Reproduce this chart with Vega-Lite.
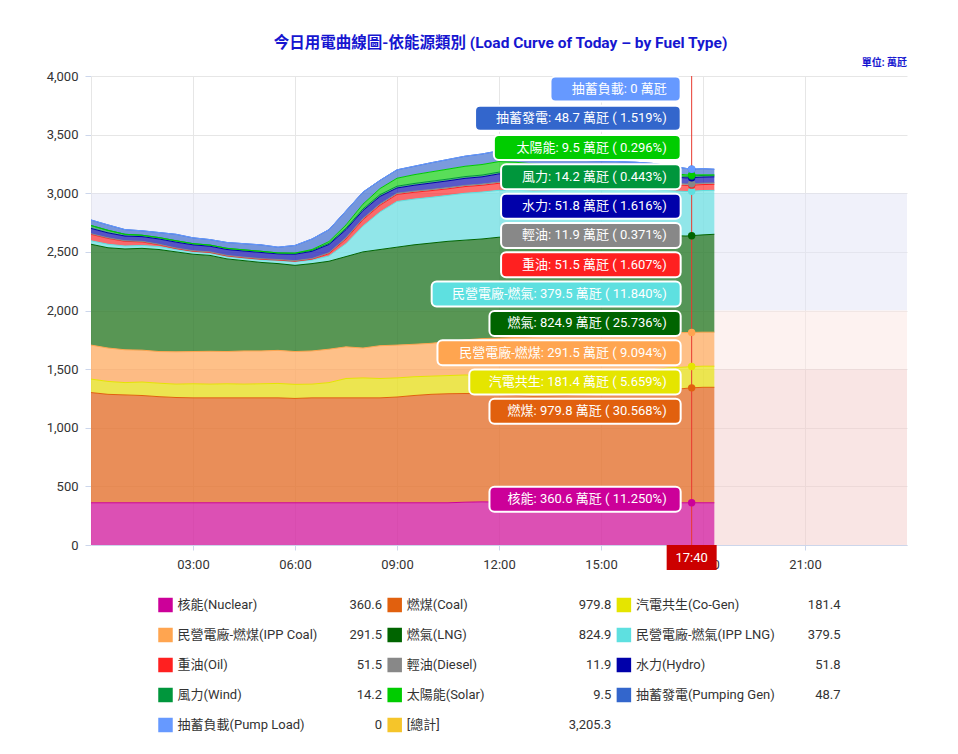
{
  "$schema": "https://vega.github.io/schema/vega-lite/v6.json",
  "background": "white",
  "padding": {"left": 46, "top": 35, "right": 20, "bottom": 10},
  "title": {
    "text": "今日用電曲線圖-依能源類別 (Load Curve of Today – by Fuel Type)",
    "anchor": "middle",
    "fontSize": 15.5,
    "fontWeight": "bold",
    "color": "#1616d0",
    "offset": 7,
    "dx": 24
  },
  "bounds": "flush",
  "center": true,
  "spacing": 45,
  "datasets": {
    "bands": [
      {"lo": 2000, "hi": 3000, "b": "2000-3000"},
      {"lo": 1500, "hi": 2000, "b": "1500-2000"},
      {"lo": 0, "hi": 1500, "b": "0-1500"}
    ],
    "cur": [{"t": "2024-01-01T17:40", "lab": "17:40"}],
    "tips": [
      {"t": "2024-01-01T17:40", "f": "抽蓄負載", "tip": "抽蓄負載: 0 萬瓩"},
      {"t": "2024-01-01T17:40", "f": "抽蓄發電", "tip": "抽蓄發電: 48.7 萬瓩 ( 1.519%)"},
      {"t": "2024-01-01T17:40", "f": "太陽能", "tip": "太陽能: 9.5 萬瓩 ( 0.296%)"},
      {"t": "2024-01-01T17:40", "f": "風力", "tip": "風力: 14.2 萬瓩 ( 0.443%)"},
      {"t": "2024-01-01T17:40", "f": "水力", "tip": "水力: 51.8 萬瓩 ( 1.616%)"},
      {"t": "2024-01-01T17:40", "f": "輕油", "tip": "輕油: 11.9 萬瓩 ( 0.371%)"},
      {"t": "2024-01-01T17:40", "f": "重油", "tip": "重油: 51.5 萬瓩 ( 1.607%)"},
      {"t": "2024-01-01T17:40", "f": "民營電廠-燃氣", "tip": "民營電廠-燃氣: 379.5 萬瓩 ( 11.840%)"},
      {"t": "2024-01-01T17:40", "f": "燃氣", "tip": "燃氣: 824.9 萬瓩 ( 25.736%)"},
      {"t": "2024-01-01T17:40", "f": "民營電廠-燃煤", "tip": "民營電廠-燃煤: 291.5 萬瓩 ( 9.094%)"},
      {"t": "2024-01-01T17:40", "f": "汽電共生", "tip": "汽電共生: 181.4 萬瓩 ( 5.659%)"},
      {"t": "2024-01-01T17:40", "f": "燃煤", "tip": "燃煤: 979.8 萬瓩 ( 30.568%)"},
      {"t": "2024-01-01T17:40", "f": "核能", "tip": "核能: 360.6 萬瓩 ( 11.250%)"}
    ],
    "legend": [
      {"f": "核能", "n": "核能(Nuclear)", "val": 360.6},
      {"f": "燃煤", "n": "燃煤(Coal)", "val": 979.8},
      {"f": "汽電共生", "n": "汽電共生(Co-Gen)", "val": 181.4},
      {"f": "民營電廠-燃煤", "n": "民營電廠-燃煤(IPP Coal)", "val": 291.5},
      {"f": "燃氣", "n": "燃氣(LNG)", "val": 824.9},
      {"f": "民營電廠-燃氣", "n": "民營電廠-燃氣(IPP LNG)", "val": 379.5},
      {"f": "重油", "n": "重油(Oil)", "val": 51.5},
      {"f": "輕油", "n": "輕油(Diesel)", "val": 11.9},
      {"f": "水力", "n": "水力(Hydro)", "val": 51.8},
      {"f": "風力", "n": "風力(Wind)", "val": 14.2},
      {"f": "太陽能", "n": "太陽能(Solar)", "val": 9.5},
      {"f": "抽蓄發電", "n": "抽蓄發電(Pumping Gen)", "val": 48.7},
      {"f": "抽蓄負載", "n": "抽蓄負載(Pump Load)", "val": 0},
      {"f": "總計", "n": "[總計]", "val": 3205.3}
    ],
    "gen": [
      {"t":"2024-01-01T00:00","f":"核能","v":360},{"t":"2024-01-01T00:00","f":"燃煤","v":940},{"t":"2024-01-01T00:00","f":"汽電共生","v":115},{"t":"2024-01-01T00:00","f":"民營電廠-燃煤","v":290},{"t":"2024-01-01T00:00","f":"燃氣","v":860},{"t":"2024-01-01T00:00","f":"民營電廠-燃氣","v":30},{"t":"2024-01-01T00:00","f":"重油","v":55},{"t":"2024-01-01T00:00","f":"輕油","v":5},{"t":"2024-01-01T00:00","f":"水力","v":45},{"t":"2024-01-01T00:00","f":"風力","v":25},{"t":"2024-01-01T00:00","f":"太陽能","v":0},{"t":"2024-01-01T00:00","f":"抽蓄發電","v":47},{"t":"2024-01-01T00:00","f":"抽蓄負載","v":0},
      {"t":"2024-01-01T00:30","f":"核能","v":360},{"t":"2024-01-01T00:30","f":"燃煤","v":925},{"t":"2024-01-01T00:30","f":"汽電共生","v":110},{"t":"2024-01-01T00:30","f":"民營電廠-燃煤","v":285},{"t":"2024-01-01T00:30","f":"燃氣","v":855},{"t":"2024-01-01T00:30","f":"民營電廠-燃氣","v":30},{"t":"2024-01-01T00:30","f":"重油","v":50},{"t":"2024-01-01T00:30","f":"輕油","v":5},{"t":"2024-01-01T00:30","f":"水力","v":42},{"t":"2024-01-01T00:30","f":"風力","v":22},{"t":"2024-01-01T00:30","f":"太陽能","v":0},{"t":"2024-01-01T00:30","f":"抽蓄發電","v":46},{"t":"2024-01-01T00:30","f":"抽蓄負載","v":0},
      {"t":"2024-01-01T01:00","f":"核能","v":360},{"t":"2024-01-01T01:00","f":"燃煤","v":920},{"t":"2024-01-01T01:00","f":"汽電共生","v":105},{"t":"2024-01-01T01:00","f":"民營電廠-燃煤","v":280},{"t":"2024-01-01T01:00","f":"燃氣","v":860},{"t":"2024-01-01T01:00","f":"民營電廠-燃氣","v":25},{"t":"2024-01-01T01:00","f":"重油","v":40},{"t":"2024-01-01T01:00","f":"輕油","v":5},{"t":"2024-01-01T01:00","f":"水力","v":40},{"t":"2024-01-01T01:00","f":"風力","v":15},{"t":"2024-01-01T01:00","f":"太陽能","v":0},{"t":"2024-01-01T01:00","f":"抽蓄發電","v":40},{"t":"2024-01-01T01:00","f":"抽蓄負載","v":0},
      {"t":"2024-01-01T01:30","f":"核能","v":360},{"t":"2024-01-01T01:30","f":"燃煤","v":915},{"t":"2024-01-01T01:30","f":"汽電共生","v":115},{"t":"2024-01-01T01:30","f":"民營電廠-燃煤","v":272},{"t":"2024-01-01T01:30","f":"燃氣","v":868},{"t":"2024-01-01T01:30","f":"民營電廠-燃氣","v":25},{"t":"2024-01-01T01:30","f":"重油","v":30},{"t":"2024-01-01T01:30","f":"輕油","v":5},{"t":"2024-01-01T01:30","f":"水力","v":40},{"t":"2024-01-01T01:30","f":"風力","v":12},{"t":"2024-01-01T01:30","f":"太陽能","v":0},{"t":"2024-01-01T01:30","f":"抽蓄發電","v":38},{"t":"2024-01-01T01:30","f":"抽蓄負載","v":0},
      {"t":"2024-01-01T02:00","f":"核能","v":360},{"t":"2024-01-01T02:00","f":"燃煤","v":905},{"t":"2024-01-01T02:00","f":"汽電共生","v":115},{"t":"2024-01-01T02:00","f":"民營電廠-燃煤","v":270},{"t":"2024-01-01T02:00","f":"燃氣","v":870},{"t":"2024-01-01T02:00","f":"民營電廠-燃氣","v":25},{"t":"2024-01-01T02:00","f":"重油","v":15},{"t":"2024-01-01T02:00","f":"輕油","v":5},{"t":"2024-01-01T02:00","f":"水力","v":45},{"t":"2024-01-01T02:00","f":"風力","v":12},{"t":"2024-01-01T02:00","f":"太陽能","v":0},{"t":"2024-01-01T02:00","f":"抽蓄發電","v":43},{"t":"2024-01-01T02:00","f":"抽蓄負載","v":0},
      {"t":"2024-01-01T02:30","f":"核能","v":360},{"t":"2024-01-01T02:30","f":"燃煤","v":898},{"t":"2024-01-01T02:30","f":"汽電共生","v":114},{"t":"2024-01-01T02:30","f":"民營電廠-燃煤","v":276},{"t":"2024-01-01T02:30","f":"燃氣","v":852},{"t":"2024-01-01T02:30","f":"民營電廠-燃氣","v":20},{"t":"2024-01-01T02:30","f":"重油","v":8},{"t":"2024-01-01T02:30","f":"輕油","v":5},{"t":"2024-01-01T02:30","f":"水力","v":50},{"t":"2024-01-01T02:30","f":"風力","v":12},{"t":"2024-01-01T02:30","f":"太陽能","v":0},{"t":"2024-01-01T02:30","f":"抽蓄發電","v":55},{"t":"2024-01-01T02:30","f":"抽蓄負載","v":0},
      {"t":"2024-01-01T03:00","f":"核能","v":360},{"t":"2024-01-01T03:00","f":"燃煤","v":895},{"t":"2024-01-01T03:00","f":"汽電共生","v":120},{"t":"2024-01-01T03:00","f":"民營電廠-燃煤","v":275},{"t":"2024-01-01T03:00","f":"燃氣","v":830},{"t":"2024-01-01T03:00","f":"民營電廠-燃氣","v":20},{"t":"2024-01-01T03:00","f":"重油","v":5},{"t":"2024-01-01T03:00","f":"輕油","v":5},{"t":"2024-01-01T03:00","f":"水力","v":50},{"t":"2024-01-01T03:00","f":"風力","v":10},{"t":"2024-01-01T03:00","f":"太陽能","v":0},{"t":"2024-01-01T03:00","f":"抽蓄發電","v":50},{"t":"2024-01-01T03:00","f":"抽蓄負載","v":0},
      {"t":"2024-01-01T03:30","f":"核能","v":360},{"t":"2024-01-01T03:30","f":"燃煤","v":895},{"t":"2024-01-01T03:30","f":"汽電共生","v":117},{"t":"2024-01-01T03:30","f":"民營電廠-燃煤","v":280},{"t":"2024-01-01T03:30","f":"燃氣","v":818},{"t":"2024-01-01T03:30","f":"民營電廠-燃氣","v":20},{"t":"2024-01-01T03:30","f":"重油","v":5},{"t":"2024-01-01T03:30","f":"輕油","v":5},{"t":"2024-01-01T03:30","f":"水力","v":48},{"t":"2024-01-01T03:30","f":"風力","v":10},{"t":"2024-01-01T03:30","f":"太陽能","v":0},{"t":"2024-01-01T03:30","f":"抽蓄發電","v":47},{"t":"2024-01-01T03:30","f":"抽蓄負載","v":0},
      {"t":"2024-01-01T04:00","f":"核能","v":360},{"t":"2024-01-01T04:00","f":"燃煤","v":895},{"t":"2024-01-01T04:00","f":"汽電共生","v":120},{"t":"2024-01-01T04:00","f":"民營電廠-燃煤","v":275},{"t":"2024-01-01T04:00","f":"燃氣","v":790},{"t":"2024-01-01T04:00","f":"民營電廠-燃氣","v":20},{"t":"2024-01-01T04:00","f":"重油","v":5},{"t":"2024-01-01T04:00","f":"輕油","v":5},{"t":"2024-01-01T04:00","f":"水力","v":50},{"t":"2024-01-01T04:00","f":"風力","v":10},{"t":"2024-01-01T04:00","f":"太陽能","v":0},{"t":"2024-01-01T04:00","f":"抽蓄發電","v":50},{"t":"2024-01-01T04:00","f":"抽蓄負載","v":0},
      {"t":"2024-01-01T04:30","f":"核能","v":360},{"t":"2024-01-01T04:30","f":"燃煤","v":895},{"t":"2024-01-01T04:30","f":"汽電共生","v":117},{"t":"2024-01-01T04:30","f":"民營電廠-燃煤","v":283},{"t":"2024-01-01T04:30","f":"燃氣","v":770},{"t":"2024-01-01T04:30","f":"民營電廠-燃氣","v":20},{"t":"2024-01-01T04:30","f":"重油","v":5},{"t":"2024-01-01T04:30","f":"輕油","v":5},{"t":"2024-01-01T04:30","f":"水力","v":52},{"t":"2024-01-01T04:30","f":"風力","v":10},{"t":"2024-01-01T04:30","f":"太陽能","v":0},{"t":"2024-01-01T04:30","f":"抽蓄發電","v":53},{"t":"2024-01-01T04:30","f":"抽蓄負載","v":0},
      {"t":"2024-01-01T05:00","f":"核能","v":360},{"t":"2024-01-01T05:00","f":"燃煤","v":895},{"t":"2024-01-01T05:00","f":"汽電共生","v":120},{"t":"2024-01-01T05:00","f":"民營電廠-燃煤","v":280},{"t":"2024-01-01T05:00","f":"燃氣","v":755},{"t":"2024-01-01T05:00","f":"民營電廠-燃氣","v":22},{"t":"2024-01-01T05:00","f":"重油","v":5},{"t":"2024-01-01T05:00","f":"輕油","v":5},{"t":"2024-01-01T05:00","f":"水力","v":53},{"t":"2024-01-01T05:00","f":"風力","v":10},{"t":"2024-01-01T05:00","f":"太陽能","v":0},{"t":"2024-01-01T05:00","f":"抽蓄發電","v":55},{"t":"2024-01-01T05:00","f":"抽蓄負載","v":0},
      {"t":"2024-01-01T05:30","f":"核能","v":360},{"t":"2024-01-01T05:30","f":"燃煤","v":895},{"t":"2024-01-01T05:30","f":"汽電共生","v":123},{"t":"2024-01-01T05:30","f":"民營電廠-燃煤","v":282},{"t":"2024-01-01T05:30","f":"燃氣","v":740},{"t":"2024-01-01T05:30","f":"民營電廠-燃氣","v":25},{"t":"2024-01-01T05:30","f":"重油","v":5},{"t":"2024-01-01T05:30","f":"輕油","v":5},{"t":"2024-01-01T05:30","f":"水力","v":48},{"t":"2024-01-01T05:30","f":"風力","v":8},{"t":"2024-01-01T05:30","f":"太陽能","v":0},{"t":"2024-01-01T05:30","f":"抽蓄發電","v":49},{"t":"2024-01-01T05:30","f":"抽蓄負載","v":0},
      {"t":"2024-01-01T06:00","f":"核能","v":360},{"t":"2024-01-01T06:00","f":"燃煤","v":890},{"t":"2024-01-01T06:00","f":"汽電共生","v":120},{"t":"2024-01-01T06:00","f":"民營電廠-燃煤","v":280},{"t":"2024-01-01T06:00","f":"燃氣","v":735},{"t":"2024-01-01T06:00","f":"民營電廠-燃氣","v":30},{"t":"2024-01-01T06:00","f":"重油","v":5},{"t":"2024-01-01T06:00","f":"輕油","v":5},{"t":"2024-01-01T06:00","f":"水力","v":55},{"t":"2024-01-01T06:00","f":"風力","v":8},{"t":"2024-01-01T06:00","f":"太陽能","v":2},{"t":"2024-01-01T06:00","f":"抽蓄發電","v":65},{"t":"2024-01-01T06:00","f":"抽蓄負載","v":0},
      {"t":"2024-01-01T06:30","f":"核能","v":360},{"t":"2024-01-01T06:30","f":"燃煤","v":895},{"t":"2024-01-01T06:30","f":"汽電共生","v":117},{"t":"2024-01-01T06:30","f":"民營電廠-燃煤","v":283},{"t":"2024-01-01T06:30","f":"燃氣","v":745},{"t":"2024-01-01T06:30","f":"民營電廠-燃氣","v":30},{"t":"2024-01-01T06:30","f":"重油","v":8},{"t":"2024-01-01T06:30","f":"輕油","v":5},{"t":"2024-01-01T06:30","f":"水力","v":62},{"t":"2024-01-01T06:30","f":"風力","v":8},{"t":"2024-01-01T06:30","f":"太陽能","v":7},{"t":"2024-01-01T06:30","f":"抽蓄發電","v":90},{"t":"2024-01-01T06:30","f":"抽蓄負載","v":0},
      {"t":"2024-01-01T07:00","f":"核能","v":360},{"t":"2024-01-01T07:00","f":"燃煤","v":895},{"t":"2024-01-01T07:00","f":"汽電共生","v":130},{"t":"2024-01-01T07:00","f":"民營電廠-燃煤","v":285},{"t":"2024-01-01T07:00","f":"燃氣","v":750},{"t":"2024-01-01T07:00","f":"民營電廠-燃氣","v":45},{"t":"2024-01-01T07:00","f":"重油","v":20},{"t":"2024-01-01T07:00","f":"輕油","v":8},{"t":"2024-01-01T07:00","f":"水力","v":70},{"t":"2024-01-01T07:00","f":"風力","v":10},{"t":"2024-01-01T07:00","f":"太陽能","v":15},{"t":"2024-01-01T07:00","f":"抽蓄發電","v":102},{"t":"2024-01-01T07:00","f":"抽蓄負載","v":0},
      {"t":"2024-01-01T07:30","f":"核能","v":360},{"t":"2024-01-01T07:30","f":"燃煤","v":895},{"t":"2024-01-01T07:30","f":"汽電共生","v":165},{"t":"2024-01-01T07:30","f":"民營電廠-燃煤","v":270},{"t":"2024-01-01T07:30","f":"燃氣","v":770},{"t":"2024-01-01T07:30","f":"民營電廠-燃氣","v":110},{"t":"2024-01-01T07:30","f":"重油","v":40},{"t":"2024-01-01T07:30","f":"輕油","v":10},{"t":"2024-01-01T07:30","f":"水力","v":70},{"t":"2024-01-01T07:30","f":"風力","v":12},{"t":"2024-01-01T07:30","f":"太陽能","v":28},{"t":"2024-01-01T07:30","f":"抽蓄發電","v":120},{"t":"2024-01-01T07:30","f":"抽蓄負載","v":0},
      {"t":"2024-01-01T08:00","f":"核能","v":360},{"t":"2024-01-01T08:00","f":"燃煤","v":895},{"t":"2024-01-01T08:00","f":"汽電共生","v":170},{"t":"2024-01-01T08:00","f":"民營電廠-燃煤","v":255},{"t":"2024-01-01T08:00","f":"燃氣","v":820},{"t":"2024-01-01T08:00","f":"民營電廠-燃氣","v":220},{"t":"2024-01-01T08:00","f":"重油","v":55},{"t":"2024-01-01T08:00","f":"輕油","v":10},{"t":"2024-01-01T08:00","f":"水力","v":68},{"t":"2024-01-01T08:00","f":"風力","v":14},{"t":"2024-01-01T08:00","f":"太陽能","v":40},{"t":"2024-01-01T08:00","f":"抽蓄發電","v":103},{"t":"2024-01-01T08:00","f":"抽蓄負載","v":0},
      {"t":"2024-01-01T08:30","f":"核能","v":360},{"t":"2024-01-01T08:30","f":"燃煤","v":895},{"t":"2024-01-01T08:30","f":"汽電共生","v":165},{"t":"2024-01-01T08:30","f":"民營電廠-燃煤","v":280},{"t":"2024-01-01T08:30","f":"燃氣","v":820},{"t":"2024-01-01T08:30","f":"民營電廠-燃氣","v":320},{"t":"2024-01-01T08:30","f":"重油","v":58},{"t":"2024-01-01T08:30","f":"輕油","v":10},{"t":"2024-01-01T08:30","f":"水力","v":65},{"t":"2024-01-01T08:30","f":"風力","v":15},{"t":"2024-01-01T08:30","f":"太陽能","v":52},{"t":"2024-01-01T08:30","f":"抽蓄發電","v":70},{"t":"2024-01-01T08:30","f":"抽蓄負載","v":0},
      {"t":"2024-01-01T09:00","f":"核能","v":360},{"t":"2024-01-01T09:00","f":"燃煤","v":902},{"t":"2024-01-01T09:00","f":"汽電共生","v":163},{"t":"2024-01-01T09:00","f":"民營電廠-燃煤","v":280},{"t":"2024-01-01T09:00","f":"燃氣","v":835},{"t":"2024-01-01T09:00","f":"民營電廠-燃氣","v":390},{"t":"2024-01-01T09:00","f":"重油","v":60},{"t":"2024-01-01T09:00","f":"輕油","v":10},{"t":"2024-01-01T09:00","f":"水力","v":45},{"t":"2024-01-01T09:00","f":"風力","v":15},{"t":"2024-01-01T09:00","f":"太陽能","v":68},{"t":"2024-01-01T09:00","f":"抽蓄發電","v":72},{"t":"2024-01-01T09:00","f":"抽蓄負載","v":0},
      {"t":"2024-01-01T09:30","f":"核能","v":360},{"t":"2024-01-01T09:30","f":"燃煤","v":915},{"t":"2024-01-01T09:30","f":"汽電共生","v":160},{"t":"2024-01-01T09:30","f":"民營電廠-燃煤","v":277},{"t":"2024-01-01T09:30","f":"燃氣","v":848},{"t":"2024-01-01T09:30","f":"民營電廠-燃氣","v":390},{"t":"2024-01-01T09:30","f":"重油","v":58},{"t":"2024-01-01T09:30","f":"輕油","v":10},{"t":"2024-01-01T09:30","f":"水力","v":50},{"t":"2024-01-01T09:30","f":"風力","v":15},{"t":"2024-01-01T09:30","f":"太陽能","v":75},{"t":"2024-01-01T09:30","f":"抽蓄發電","v":72},{"t":"2024-01-01T09:30","f":"抽蓄負載","v":0},
      {"t":"2024-01-01T10:00","f":"核能","v":360},{"t":"2024-01-01T10:00","f":"燃煤","v":925},{"t":"2024-01-01T10:00","f":"汽電共生","v":155},{"t":"2024-01-01T10:00","f":"民營電廠-燃煤","v":280},{"t":"2024-01-01T10:00","f":"燃氣","v":855},{"t":"2024-01-01T10:00","f":"民營電廠-燃氣","v":390},{"t":"2024-01-01T10:00","f":"重油","v":57},{"t":"2024-01-01T10:00","f":"輕油","v":10},{"t":"2024-01-01T10:00","f":"水力","v":55},{"t":"2024-01-01T10:00","f":"風力","v":15},{"t":"2024-01-01T10:00","f":"太陽能","v":80},{"t":"2024-01-01T10:00","f":"抽蓄發電","v":78},{"t":"2024-01-01T10:00","f":"抽蓄負載","v":0},
      {"t":"2024-01-01T10:30","f":"核能","v":360},{"t":"2024-01-01T10:30","f":"燃煤","v":930},{"t":"2024-01-01T10:30","f":"汽電共生","v":155},{"t":"2024-01-01T10:30","f":"民營電廠-燃煤","v":290},{"t":"2024-01-01T10:30","f":"燃氣","v":855},{"t":"2024-01-01T10:30","f":"民營電廠-燃氣","v":392},{"t":"2024-01-01T10:30","f":"重油","v":56},{"t":"2024-01-01T10:30","f":"輕油","v":10},{"t":"2024-01-01T10:30","f":"水力","v":58},{"t":"2024-01-01T10:30","f":"風力","v":15},{"t":"2024-01-01T10:30","f":"太陽能","v":85},{"t":"2024-01-01T10:30","f":"抽蓄發電","v":82},{"t":"2024-01-01T10:30","f":"抽蓄負載","v":0},
      {"t":"2024-01-01T11:00","f":"核能","v":365},{"t":"2024-01-01T11:00","f":"燃煤","v":927},{"t":"2024-01-01T11:00","f":"汽電共生","v":158},{"t":"2024-01-01T11:00","f":"民營電廠-燃煤","v":300},{"t":"2024-01-01T11:00","f":"燃氣","v":850},{"t":"2024-01-01T11:00","f":"民營電廠-燃氣","v":400},{"t":"2024-01-01T11:00","f":"重油","v":57},{"t":"2024-01-01T11:00","f":"輕油","v":10},{"t":"2024-01-01T11:00","f":"水力","v":60},{"t":"2024-01-01T11:00","f":"風力","v":15},{"t":"2024-01-01T11:00","f":"太陽能","v":88},{"t":"2024-01-01T11:00","f":"抽蓄發電","v":86},{"t":"2024-01-01T11:00","f":"抽蓄負載","v":0},
      {"t":"2024-01-01T11:30","f":"核能","v":368},{"t":"2024-01-01T11:30","f":"燃煤","v":922},{"t":"2024-01-01T11:30","f":"汽電共生","v":155},{"t":"2024-01-01T11:30","f":"民營電廠-燃煤","v":315},{"t":"2024-01-01T11:30","f":"燃氣","v":850},{"t":"2024-01-01T11:30","f":"民營電廠-燃氣","v":400},{"t":"2024-01-01T11:30","f":"重油","v":58},{"t":"2024-01-01T11:30","f":"輕油","v":10},{"t":"2024-01-01T11:30","f":"水力","v":62},{"t":"2024-01-01T11:30","f":"風力","v":15},{"t":"2024-01-01T11:30","f":"太陽能","v":90},{"t":"2024-01-01T11:30","f":"抽蓄發電","v":90},{"t":"2024-01-01T11:30","f":"抽蓄負載","v":0},
      {"t":"2024-01-01T12:00","f":"核能","v":366},{"t":"2024-01-01T12:00","f":"燃煤","v":919},{"t":"2024-01-01T12:00","f":"汽電共生","v":155},{"t":"2024-01-01T12:00","f":"民營電廠-燃煤","v":325},{"t":"2024-01-01T12:00","f":"燃氣","v":860},{"t":"2024-01-01T12:00","f":"民營電廠-燃氣","v":400},{"t":"2024-01-01T12:00","f":"重油","v":60},{"t":"2024-01-01T12:00","f":"輕油","v":10},{"t":"2024-01-01T12:00","f":"水力","v":70},{"t":"2024-01-01T12:00","f":"風力","v":15},{"t":"2024-01-01T12:00","f":"太陽能","v":90},{"t":"2024-01-01T12:00","f":"抽蓄發電","v":92},{"t":"2024-01-01T12:00","f":"抽蓄負載","v":0},
      {"t":"2024-01-01T12:30","f":"核能","v":362},{"t":"2024-01-01T12:30","f":"燃煤","v":913},{"t":"2024-01-01T12:30","f":"汽電共生","v":155},{"t":"2024-01-01T12:30","f":"民營電廠-燃煤","v":340},{"t":"2024-01-01T12:30","f":"燃氣","v":860},{"t":"2024-01-01T12:30","f":"民營電廠-燃氣","v":395},{"t":"2024-01-01T12:30","f":"重油","v":58},{"t":"2024-01-01T12:30","f":"輕油","v":10},{"t":"2024-01-01T12:30","f":"水力","v":68},{"t":"2024-01-01T12:30","f":"風力","v":15},{"t":"2024-01-01T12:30","f":"太陽能","v":88},{"t":"2024-01-01T12:30","f":"抽蓄發電","v":80},{"t":"2024-01-01T12:30","f":"抽蓄負載","v":0},
      {"t":"2024-01-01T13:00","f":"核能","v":360},{"t":"2024-01-01T13:00","f":"燃煤","v":910},{"t":"2024-01-01T13:00","f":"汽電共生","v":170},{"t":"2024-01-01T13:00","f":"民營電廠-燃煤","v":335},{"t":"2024-01-01T13:00","f":"燃氣","v":850},{"t":"2024-01-01T13:00","f":"民營電廠-燃氣","v":395},{"t":"2024-01-01T13:00","f":"重油","v":56},{"t":"2024-01-01T13:00","f":"輕油","v":10},{"t":"2024-01-01T13:00","f":"水力","v":65},{"t":"2024-01-01T13:00","f":"風力","v":15},{"t":"2024-01-01T13:00","f":"太陽能","v":84},{"t":"2024-01-01T13:00","f":"抽蓄發電","v":62},{"t":"2024-01-01T13:00","f":"抽蓄負載","v":0},
      {"t":"2024-01-01T13:30","f":"核能","v":360},{"t":"2024-01-01T13:30","f":"燃煤","v":912},{"t":"2024-01-01T13:30","f":"汽電共生","v":178},{"t":"2024-01-01T13:30","f":"民營電廠-燃煤","v":330},{"t":"2024-01-01T13:30","f":"燃氣","v":850},{"t":"2024-01-01T13:30","f":"民營電廠-燃氣","v":392},{"t":"2024-01-01T13:30","f":"重油","v":55},{"t":"2024-01-01T13:30","f":"輕油","v":10},{"t":"2024-01-01T13:30","f":"水力","v":62},{"t":"2024-01-01T13:30","f":"風力","v":15},{"t":"2024-01-01T13:30","f":"太陽能","v":78},{"t":"2024-01-01T13:30","f":"抽蓄發電","v":48},{"t":"2024-01-01T13:30","f":"抽蓄負載","v":0},
      {"t":"2024-01-01T14:00","f":"核能","v":360},{"t":"2024-01-01T14:00","f":"燃煤","v":915},{"t":"2024-01-01T14:00","f":"汽電共生","v":185},{"t":"2024-01-01T14:00","f":"民營電廠-燃煤","v":325},{"t":"2024-01-01T14:00","f":"燃氣","v":850},{"t":"2024-01-01T14:00","f":"民營電廠-燃氣","v":390},{"t":"2024-01-01T14:00","f":"重油","v":55},{"t":"2024-01-01T14:00","f":"輕油","v":10},{"t":"2024-01-01T14:00","f":"水力","v":60},{"t":"2024-01-01T14:00","f":"風力","v":15},{"t":"2024-01-01T14:00","f":"太陽能","v":70},{"t":"2024-01-01T14:00","f":"抽蓄發電","v":50},{"t":"2024-01-01T14:00","f":"抽蓄負載","v":0},
      {"t":"2024-01-01T14:30","f":"核能","v":360},{"t":"2024-01-01T14:30","f":"燃煤","v":920},{"t":"2024-01-01T14:30","f":"汽電共生","v":190},{"t":"2024-01-01T14:30","f":"民營電廠-燃煤","v":320},{"t":"2024-01-01T14:30","f":"燃氣","v":850},{"t":"2024-01-01T14:30","f":"民營電廠-燃氣","v":388},{"t":"2024-01-01T14:30","f":"重油","v":54},{"t":"2024-01-01T14:30","f":"輕油","v":10},{"t":"2024-01-01T14:30","f":"水力","v":58},{"t":"2024-01-01T14:30","f":"風力","v":15},{"t":"2024-01-01T14:30","f":"太陽能","v":62},{"t":"2024-01-01T14:30","f":"抽蓄發電","v":53},{"t":"2024-01-01T14:30","f":"抽蓄負載","v":0},
      {"t":"2024-01-01T15:00","f":"核能","v":360},{"t":"2024-01-01T15:00","f":"燃煤","v":925},{"t":"2024-01-01T15:00","f":"汽電共生","v":190},{"t":"2024-01-01T15:00","f":"民營電廠-燃煤","v":320},{"t":"2024-01-01T15:00","f":"燃氣","v":840},{"t":"2024-01-01T15:00","f":"民營電廠-燃氣","v":390},{"t":"2024-01-01T15:00","f":"重油","v":54},{"t":"2024-01-01T15:00","f":"輕油","v":11},{"t":"2024-01-01T15:00","f":"水力","v":57},{"t":"2024-01-01T15:00","f":"風力","v":15},{"t":"2024-01-01T15:00","f":"太陽能","v":55},{"t":"2024-01-01T15:00","f":"抽蓄發電","v":58},{"t":"2024-01-01T15:00","f":"抽蓄負載","v":0},
      {"t":"2024-01-01T15:30","f":"核能","v":360},{"t":"2024-01-01T15:30","f":"燃煤","v":932},{"t":"2024-01-01T15:30","f":"汽電共生","v":188},{"t":"2024-01-01T15:30","f":"民營電廠-燃煤","v":320},{"t":"2024-01-01T15:30","f":"燃氣","v":840},{"t":"2024-01-01T15:30","f":"民營電廠-燃氣","v":388},{"t":"2024-01-01T15:30","f":"重油","v":53},{"t":"2024-01-01T15:30","f":"輕油","v":11},{"t":"2024-01-01T15:30","f":"水力","v":56},{"t":"2024-01-01T15:30","f":"風力","v":15},{"t":"2024-01-01T15:30","f":"太陽能","v":46},{"t":"2024-01-01T15:30","f":"抽蓄發電","v":61},{"t":"2024-01-01T15:30","f":"抽蓄負載","v":0},
      {"t":"2024-01-01T16:00","f":"核能","v":360},{"t":"2024-01-01T16:00","f":"燃煤","v":940},{"t":"2024-01-01T16:00","f":"汽電共生","v":185},{"t":"2024-01-01T16:00","f":"民營電廠-燃煤","v":320},{"t":"2024-01-01T16:00","f":"燃氣","v":835},{"t":"2024-01-01T16:00","f":"民營電廠-燃氣","v":386},{"t":"2024-01-01T16:00","f":"重油","v":53},{"t":"2024-01-01T16:00","f":"輕油","v":11},{"t":"2024-01-01T16:00","f":"水力","v":55},{"t":"2024-01-01T16:00","f":"風力","v":15},{"t":"2024-01-01T16:00","f":"太陽能","v":38},{"t":"2024-01-01T16:00","f":"抽蓄發電","v":67},{"t":"2024-01-01T16:00","f":"抽蓄負載","v":0},
      {"t":"2024-01-01T16:30","f":"核能","v":360},{"t":"2024-01-01T16:30","f":"燃煤","v":950},{"t":"2024-01-01T16:30","f":"汽電共生","v":185},{"t":"2024-01-01T16:30","f":"民營電廠-燃煤","v":313},{"t":"2024-01-01T16:30","f":"燃氣","v":837},{"t":"2024-01-01T16:30","f":"民營電廠-燃氣","v":384},{"t":"2024-01-01T16:30","f":"重油","v":52},{"t":"2024-01-01T16:30","f":"輕油","v":12},{"t":"2024-01-01T16:30","f":"水力","v":54},{"t":"2024-01-01T16:30","f":"風力","v":14},{"t":"2024-01-01T16:30","f":"太陽能","v":28},{"t":"2024-01-01T16:30","f":"抽蓄發電","v":66},{"t":"2024-01-01T16:30","f":"抽蓄負載","v":0},
      {"t":"2024-01-01T17:00","f":"核能","v":360},{"t":"2024-01-01T17:00","f":"燃煤","v":962},{"t":"2024-01-01T17:00","f":"汽電共生","v":188},{"t":"2024-01-01T17:00","f":"民營電廠-燃煤","v":300},{"t":"2024-01-01T17:00","f":"燃氣","v":830},{"t":"2024-01-01T17:00","f":"民營電廠-燃氣","v":382},{"t":"2024-01-01T17:00","f":"重油","v":52},{"t":"2024-01-01T17:00","f":"輕油","v":12},{"t":"2024-01-01T17:00","f":"水力","v":53},{"t":"2024-01-01T17:00","f":"風力","v":14},{"t":"2024-01-01T17:00","f":"太陽能","v":18},{"t":"2024-01-01T17:00","f":"抽蓄發電","v":64},{"t":"2024-01-01T17:00","f":"抽蓄負載","v":0},
      {"t":"2024-01-01T17:30","f":"核能","v":360},{"t":"2024-01-01T17:30","f":"燃煤","v":976},{"t":"2024-01-01T17:30","f":"汽電共生","v":182},{"t":"2024-01-01T17:30","f":"民營電廠-燃煤","v":294},{"t":"2024-01-01T17:30","f":"燃氣","v":823},{"t":"2024-01-01T17:30","f":"民營電廠-燃氣","v":380},{"t":"2024-01-01T17:30","f":"重油","v":52},{"t":"2024-01-01T17:30","f":"輕油","v":12},{"t":"2024-01-01T17:30","f":"水力","v":52},{"t":"2024-01-01T17:30","f":"風力","v":14},{"t":"2024-01-01T17:30","f":"太陽能","v":12},{"t":"2024-01-01T17:30","f":"抽蓄發電","v":55},{"t":"2024-01-01T17:30","f":"抽蓄負載","v":0},
      {"t":"2024-01-01T17:40","f":"核能","v":360.6},{"t":"2024-01-01T17:40","f":"燃煤","v":979.8},{"t":"2024-01-01T17:40","f":"汽電共生","v":181.4},{"t":"2024-01-01T17:40","f":"民營電廠-燃煤","v":291.5},{"t":"2024-01-01T17:40","f":"燃氣","v":824.9},{"t":"2024-01-01T17:40","f":"民營電廠-燃氣","v":379.5},{"t":"2024-01-01T17:40","f":"重油","v":51.5},{"t":"2024-01-01T17:40","f":"輕油","v":11.9},{"t":"2024-01-01T17:40","f":"水力","v":51.8},{"t":"2024-01-01T17:40","f":"風力","v":14.2},{"t":"2024-01-01T17:40","f":"太陽能","v":9.5},{"t":"2024-01-01T17:40","f":"抽蓄發電","v":48.7},{"t":"2024-01-01T17:40","f":"抽蓄負載","v":0},
      {"t":"2024-01-01T18:00","f":"核能","v":360},{"t":"2024-01-01T18:00","f":"燃煤","v":985},{"t":"2024-01-01T18:00","f":"汽電共生","v":180},{"t":"2024-01-01T18:00","f":"民營電廠-燃煤","v":290},{"t":"2024-01-01T18:00","f":"燃氣","v":830},{"t":"2024-01-01T18:00","f":"民營電廠-燃氣","v":378},{"t":"2024-01-01T18:00","f":"重油","v":51},{"t":"2024-01-01T18:00","f":"輕油","v":12},{"t":"2024-01-01T18:00","f":"水力","v":52},{"t":"2024-01-01T18:00","f":"風力","v":14},{"t":"2024-01-01T18:00","f":"太陽能","v":5},{"t":"2024-01-01T18:00","f":"抽蓄發電","v":53},{"t":"2024-01-01T18:00","f":"抽蓄負載","v":0},
      {"t":"2024-01-01T18:20","f":"核能","v":360},{"t":"2024-01-01T18:20","f":"燃煤","v":985},{"t":"2024-01-01T18:20","f":"汽電共生","v":180},{"t":"2024-01-01T18:20","f":"民營電廠-燃煤","v":290},{"t":"2024-01-01T18:20","f":"燃氣","v":835},{"t":"2024-01-01T18:20","f":"民營電廠-燃氣","v":375},{"t":"2024-01-01T18:20","f":"重油","v":51},{"t":"2024-01-01T18:20","f":"輕油","v":12},{"t":"2024-01-01T18:20","f":"水力","v":52},{"t":"2024-01-01T18:20","f":"風力","v":14},{"t":"2024-01-01T18:20","f":"太陽能","v":2},{"t":"2024-01-01T18:20","f":"抽蓄發電","v":49},{"t":"2024-01-01T18:20","f":"抽蓄負載","v":0}
    ]
  },
  "vconcat": [
    {
      "width": 816,
      "height": 469,
      "title": {
        "text": "單位: 萬瓩",
        "anchor": "end",
        "fontSize": 10,
        "fontWeight": "bold",
        "color": "#1616d0",
        "offset": 2
      },
      "layer": [
        {
          "layer": [
            {
              "data": {"name": "bands"},
              "mark": {"type": "rect", "opacity": 0.5},
              "encoding": {
                "y": {"field": "lo", "type": "quantitative", "title": null},
                "y2": {"field": "hi"},
                "fill": {
                  "field": "b",
                  "type": "nominal",
                  "scale": {"domain": ["2000-3000", "1500-2000", "0-1500"], "range": ["#e1e3f5", "#fbe5e1", "#f4cbca"]},
                  "legend": null
                }
              }
            },
            {
              "data": {"name": "gen"},
              "transform": [
                {"calculate": "indexof(['核能','燃煤','汽電共生','民營電廠-燃煤','燃氣','民營電廠-燃氣','重油','輕油','水力','風力','太陽能','抽蓄發電','抽蓄負載'], datum.f)", "as": "o"}
              ],
              "mark": {"type": "area", "fillOpacity": 0.65, "line": {"strokeWidth": 1}},
              "encoding": {
                "x": {
                  "field": "t",
                  "type": "temporal",
                  "title": null,
                  "scale": {"domain": [{"year": 2024, "month": 1, "date": 1, "hours": 0}, {"year": 2024, "month": 1, "date": 2, "hours": 0}]},
                  "axis": {
                    "format": "%H:%M",
                    "values": [
                      {"year": 2024, "month": 1, "date": 1, "hours": 3},
                      {"year": 2024, "month": 1, "date": 1, "hours": 6},
                      {"year": 2024, "month": 1, "date": 1, "hours": 9},
                      {"year": 2024, "month": 1, "date": 1, "hours": 12},
                      {"year": 2024, "month": 1, "date": 1, "hours": 15},
                      {"year": 2024, "month": 1, "date": 1, "hours": 18},
                      {"year": 2024, "month": 1, "date": 1, "hours": 21}
                    ],
                    "tickSize": 5,
                    "labelPadding": 8,
                    "labelFontSize": 13,
                    "labelColor": "#333333",
                    "gridColor": "#e6e6e6",
                    "domainColor": "#ccd6eb",
                    "tickColor": "#ccd6eb"
                  }
                },
                "y": {
                  "field": "v",
                  "type": "quantitative",
                  "stack": "zero",
                  "title": null,
                  "scale": {"domain": [0, 4000]},
                  "axis": {
                    "values": [0, 500, 1000, 1500, 2000, 2500, 3000, 3500, 4000],
                    "format": ",d",
                    "tickSize": 6,
                    "labelPadding": 7,
                    "labelFontSize": 13,
                    "labelColor": "#333333",
                    "gridColor": "#e6e6e6",
                    "domainColor": "#e6e6e6",
                    "tickColor": "#ccd6eb"
                  }
                },
                "color": {
                  "field": "f",
                  "type": "nominal",
                  "scale": {
                    "domain": ["核能","燃煤","汽電共生","民營電廠-燃煤","燃氣","民營電廠-燃氣","重油","輕油","水力","風力","太陽能","抽蓄發電","抽蓄負載","總計"],
                    "range": ["#cc0099","#e1600e","#e5e500","#ffa550","#006400","#5ee0e0","#ff2020","#888888","#0000aa","#00963c","#00cc00","#3366cc","#6699ff","#f5c52a"]
                  },
                  "legend": null
                },
                "order": {"field": "o", "type": "quantitative"}
              }
            },
            {
              "data": {"name": "cur"},
              "mark": {"type": "rule", "color": "#e8392f", "strokeWidth": 1},
              "encoding": {"x": {"field": "t", "type": "temporal", "title": null}}
            },
            {
              "data": {"name": "gen"},
              "transform": [
                {"filter": {"field": "t", "equal": {"year": 2024, "month": 1, "date": 1, "hours": 17, "minutes": 40}}},
                {"calculate": "indexof(['核能','燃煤','汽電共生','民營電廠-燃煤','燃氣','民營電廠-燃氣','重油','輕油','水力','風力','太陽能','抽蓄發電','抽蓄負載'], datum.f)", "as": "o"}
              ],
              "mark": {"type": "circle", "size": 55, "opacity": 1},
              "encoding": {
                "x": {"field": "t", "type": "temporal", "title": null},
                "y": {"field": "v", "type": "quantitative", "stack": "zero", "title": null},
                "color": {"field": "f", "type": "nominal", "legend": null},
                "order": {"field": "o", "type": "quantitative"}
              }
            },
            {
              "data": {"name": "cur"},
              "mark": {"type": "rect", "color": "#cc0000", "xOffset": -25, "x2Offset": 25, "y2Offset": 25},
              "encoding": {
                "x": {"field": "t", "type": "temporal", "title": null},
                "x2": {"field": "t"},
                "y": {"datum": 0, "type": "quantitative"},
                "y2": {"datum": 0}
              }
            },
            {
              "data": {"name": "cur"},
              "mark": {"type": "text", "color": "white", "fontSize": 13, "dy": 13, "baseline": "middle"},
              "encoding": {
                "x": {"field": "t", "type": "temporal", "title": null},
                "y": {"datum": 0, "type": "quantitative"},
                "text": {"field": "lab"}
              }
            }
          ]
        },
        {
          "data": {"name": "tips"},
          "encoding": {
            "x": {"field": "t", "type": "temporal", "title": null},
            "y": {
              "field": "f",
              "type": "nominal",
              "title": null,
              "axis": null,
              "scale": {
                "type": "point",
                "domain": ["抽蓄負載","抽蓄發電","太陽能","風力","水力","輕油","重油","民營電廠-燃氣","燃氣","民營電廠-燃煤","汽電共生","燃煤","gap1","gap2","核能"],
                "padding": 1,
                "align": 0.22
              }
            },
            "color": {"field": "f", "type": "nominal", "legend": null}
          },
          "layer": [
            {
              "mark": {
                "type": "bar",
                "height": 25,
                "cornerRadius": 5,
                "stroke": "white",
                "strokeWidth": 2,
                "opacity": 1,
                "xOffset": {"expr": "-40 - 13 * length(replace(datum.tip, regexp('[ -~]', 'g'), '')) - 5.8 * length(replace(datum.tip, regexp('[^ -~]', 'g'), ''))"},
                "x2Offset": -11
              },
              "encoding": {"x2": {"field": "t"}}
            },
            {
              "mark": {"type": "text", "align": "right", "baseline": "middle", "dx": -25, "fontSize": 13},
              "encoding": {
                "text": {"field": "tip"},
                "color": {"value": "white"}
              }
            }
          ]
        }
      ],
      "resolve": {"scale": {"y": "independent"}}
    },
    {
      "width": 683,
      "height": 150,
      "data": {"name": "legend"},
      "transform": [
        {"window": [{"op": "row_number", "as": "i"}]},
        {"calculate": "(datum.i - 1) % 3", "as": "col"},
        {"calculate": "floor((datum.i - 1) / 3)", "as": "row"}
      ],
      "encoding": {
        "x": {"field": "col", "type": "ordinal", "axis": null, "bandPosition": 0, "scale": {"type": "band", "paddingInner": 0.02, "paddingOuter": 0}},
        "y": {"field": "row", "type": "ordinal", "axis": null, "scale": {"type": "band", "paddingInner": 0, "paddingOuter": 0}}
      },
      "layer": [
        {
          "mark": {"type": "square", "size": 210, "opacity": 1, "filled": true, "xOffset": 8},
          "encoding": {
            "color": {
              "field": "f",
              "type": "nominal",
              "scale": {
                "domain": ["核能","燃煤","汽電共生","民營電廠-燃煤","燃氣","民營電廠-燃氣","重油","輕油","水力","風力","太陽能","抽蓄發電","抽蓄負載","總計"],
                "range": ["#cc0099","#e1600e","#e5e500","#ffa550","#006400","#5ee0e0","#ff2020","#888888","#0000aa","#00963c","#00cc00","#3366cc","#6699ff","#f5c52a"]
              },
              "legend": null
            }
          }
        },
        {
          "mark": {"type": "text", "align": "left", "baseline": "middle", "fontSize": 13, "color": "#333333", "dx": 20},
          "encoding": {"text": {"field": "n"}}
        },
        {
          "mark": {"type": "text", "align": "right", "baseline": "middle", "fontSize": 13, "color": "#333333"},
          "encoding": {
            "x": {"field": "col", "type": "ordinal", "axis": null, "bandPosition": 1},
            "text": {"field": "val", "type": "quantitative", "format": ","}
          }
        }
      ]
    }
  ],
  "config": {
    "view": {"stroke": null},
    "font": "Roboto, Noto Sans CJK TC, sans-serif"
  }
}
